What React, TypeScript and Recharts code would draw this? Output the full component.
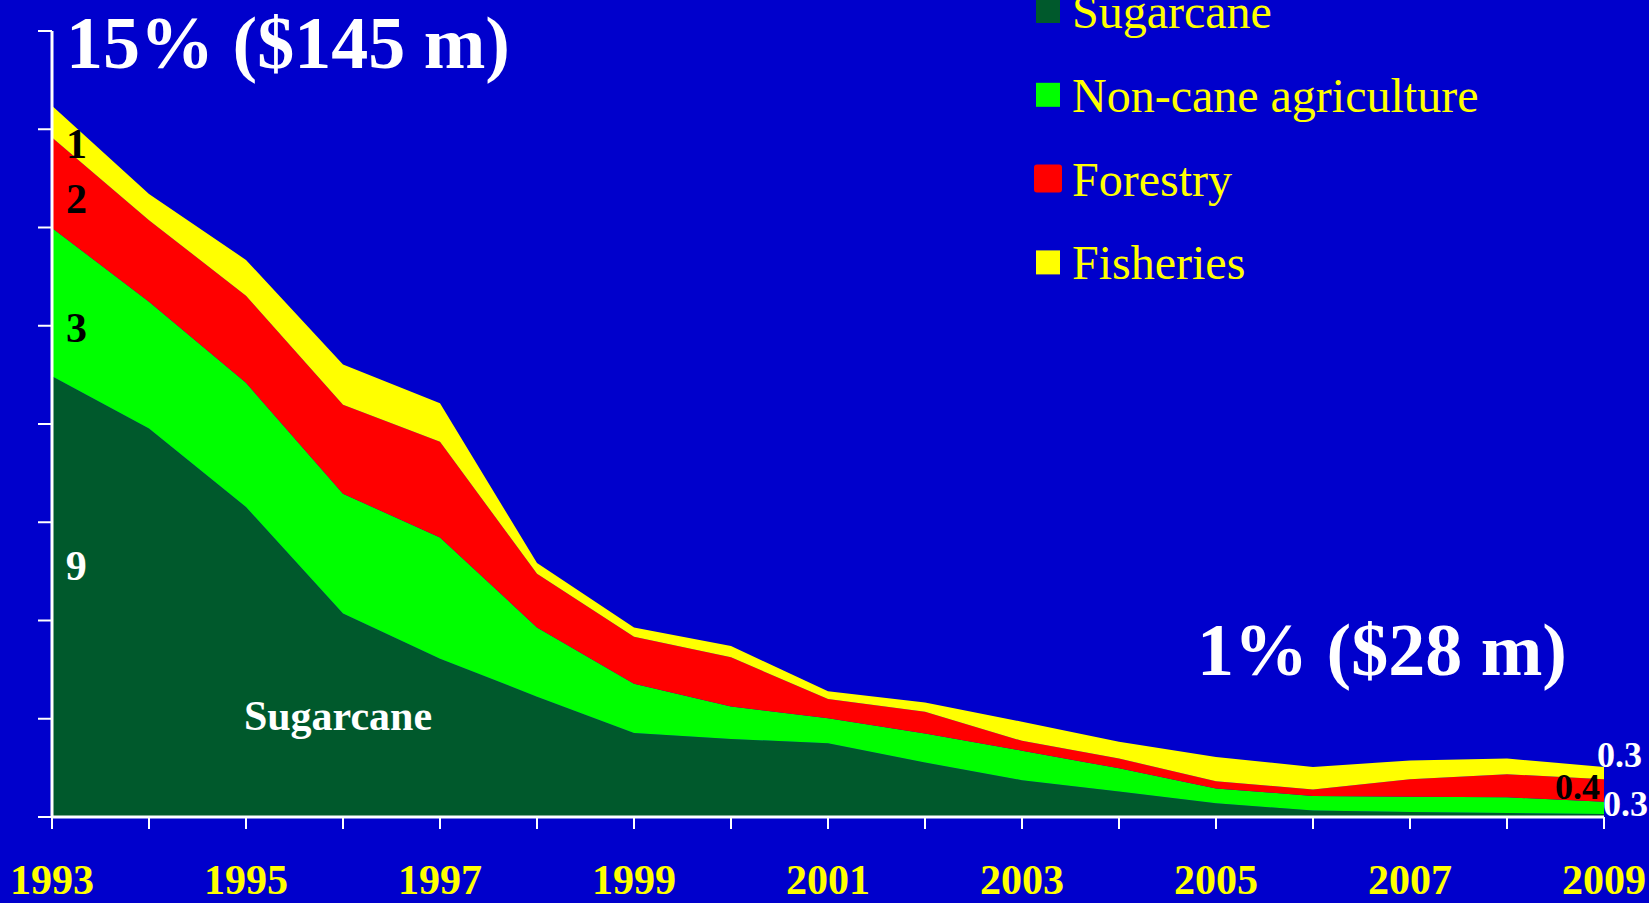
import { Area, AreaChart, Legend, XAxis, YAxis } from 'recharts';

const years = [1993, 1994, 1995, 1996, 1997, 1998, 1999, 2000, 2001, 2002, 2003, 2004, 2005, 2006, 2007, 2008, 2009];
const sugarcane = [8.97, 7.91, 6.31, 4.14, 3.22, 2.45, 1.71, 1.59, 1.5, 1.11, 0.75, 0.52, 0.28, 0.13, 0.1, 0.08, 0.06];
const nonCane = [3.02, 2.58, 2.53, 2.44, 2.47, 1.41, 1.0, 0.66, 0.51, 0.59, 0.6, 0.47, 0.3, 0.3, 0.31, 0.32, 0.25];
const forestry = [1.84, 1.66, 1.77, 1.81, 1.95, 1.09, 0.96, 1.0, 0.39, 0.44, 0.2, 0.2, 0.15, 0.13, 0.36, 0.47, 0.46];
const fisheries = [0.65, 0.53, 0.73, 0.82, 0.78, 0.22, 0.19, 0.23, 0.16, 0.19, 0.39, 0.34, 0.49, 0.46, 0.38, 0.32, 0.25];
const yearLabels = ['1993', '1995', '1997', '1999', '2001', '2003', '2005', '2007', '2009'];
const yTicks = [0, 2, 4, 6, 8, 10, 12, 14, 16];

const series = [
  { key: 'sugarcane', name: 'Sugarcane', color: '#00592C' },
  { key: 'nonCane', name: 'Non-cane agriculture', color: '#00FF00' },
  { key: 'forestry', name: 'Forestry', color: '#FF0000' },
  { key: 'fisheries', name: 'Fisheries', color: '#FFFF00' },
];

const rows = years.map((y, i) => ({
  year: String(y),
  sugarcane: sugarcane[i],
  nonCane: nonCane[i],
  forestry: forestry[i],
  fisheries: fisheries[i],
}));

const SERIF = '"Liberation Serif", "Times New Roman", serif';
const BG = '#0000CC';

function YearTick(props: any) {
  const { x, y, payload } = props;
  if (!yearLabels.includes(String(payload.value))) return null;
  return (
    <text x={x} y={y} dy={63} textAnchor="middle" fill="#FFFF00" fontFamily={SERIF} fontWeight="bold" fontSize={42}>
      {payload.value}
    </text>
  );
}

// y axis has tick marks but no numbers
const NoLabel = () => <g />;

function LegendBox() {
  return (
    <svg width={600} height={300} style={{ overflow: 'visible', display: 'block' }}>
      {series.map((s, i) => {
        const big = s.key === 'forestry';
        const top = -1 + 83.8 * i;
        return (
          <g key={s.key}>
            <rect
              x={big ? -2 : 0}
              y={big ? top - 2 : top}
              width={big ? 28 : 24}
              height={big ? 28 : 24}
              rx={big ? 3 : 0}
              fill={s.color}
            />
            <text x={36} y={28.3 + 83.7 * i} fill="#FFFF00" fontFamily={SERIF} fontSize={48}>
              {s.name}
            </text>
          </g>
        );
      })}
    </svg>
  );
}

export default function App() {
  const bold = { fontFamily: SERIF, fontWeight: 'bold' as const };
  return (
    <div style={{ position: 'absolute', left: 0, top: 0, width: 1649, height: 903, background: BG, overflow: 'hidden' }}>
      <AreaChart width={1649} height={903} data={rows} margin={{ top: 31, right: 45, left: 0, bottom: 0 }}>
        <XAxis
          dataKey="year"
          height={86}
          interval={0}
          tickSize={12}
          tick={<YearTick />}
          axisLine={{ stroke: '#FFFFFF', strokeWidth: 3 }}
          tickLine={{ stroke: '#FFFFFF', strokeWidth: 2 }}
        />
        <YAxis
          width={52}
          domain={[0, 16]}
          ticks={yTicks}
          interval={0}
          tickSize={14}
          tick={<NoLabel />}
          axisLine={{ stroke: '#FFFFFF', strokeWidth: 3 }}
          tickLine={{ stroke: '#FFFFFF', strokeWidth: 2 }}
        />
        {series.map((s) => (
          <Area
            key={s.key}
            type="linear"
            dataKey={s.key}
            name={s.name}
            stackId="1"
            stroke="none"
            fill={s.color}
            fillOpacity={1}
            isAnimationActive={false}
          />
        ))}
        <Legend
          layout="vertical"
          align="center"
          verticalAlign="middle"
          content={() => <LegendBox />}
          wrapperStyle={{ left: 1036, top: 0, width: 600 }}
        />
      </AreaChart>
      <svg width={1649} height={903} style={{ position: 'absolute', left: 0, top: 0, pointerEvents: 'none' }}>
        <text x={66} y={68} fill="#FFFFFF" fontSize={74} {...bold}>15% ($145 m)</text>
        <text x={1197} y={675} fill="#FFFFFF" fontSize={74} {...bold}>1% ($28 m)</text>
        <g fontSize={42} textAnchor="middle" {...bold}>
          <text x={76.5} y={158} fill="#000000">1</text>
          <text x={76.5} y={213} fill="#000000">2</text>
          <text x={76.5} y={342} fill="#000000">3</text>
          <text x={76.3} y={580} fill="#FFFFFF">9</text>
          <text x={338} y={730} fill="#FFFFFF">Sugarcane</text>
        </g>
        <g fontSize={36} {...bold}>
          <text x={1597} y={767} fill="#FFFFFF">0.3</text>
          <text x={1600} y={799} fill="#000000" textAnchor="end">0.4</text>
          <text x={1603} y={816} fill="#FFFFFF">0.3</text>
        </g>
      </svg>
    </div>
  );
}
